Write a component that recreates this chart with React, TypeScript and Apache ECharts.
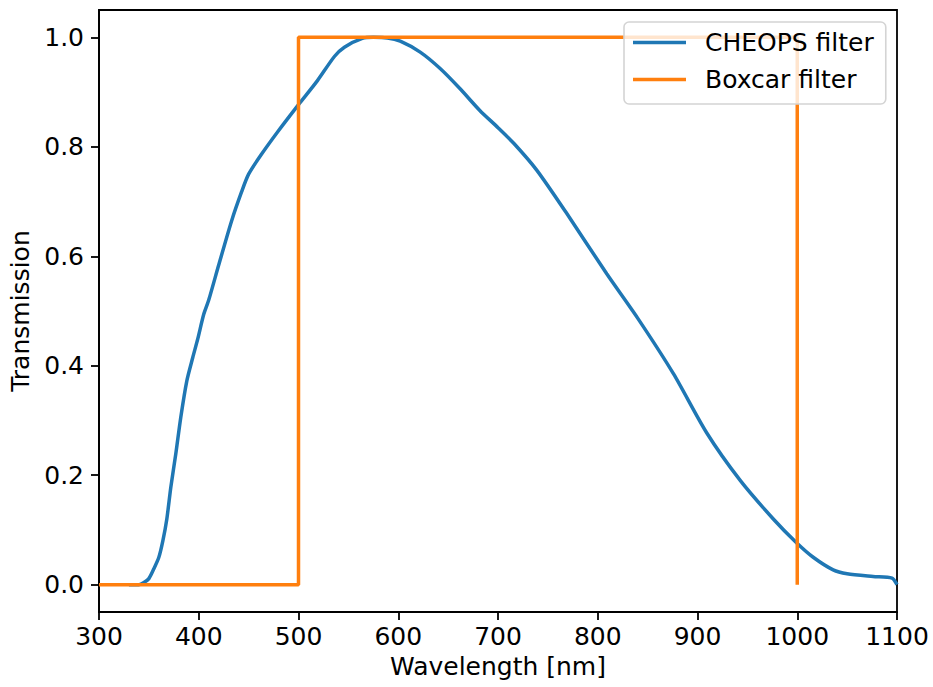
import React, { useEffect, useRef } from "react";
import * as echarts from "echarts";

// CHEOPS passband transmission, [wavelength nm, transmission]
const cheopsWavelength = [
  330, 340, 345, 350, 355, 360, 364, 368, 372, 377, 382, 388, 394, 399, 405, 410,
  420, 433, 443, 450, 462, 479, 500, 519, 536, 546, 564, 575, 589, 602, 622, 642,
  662, 682, 700, 716, 739, 769, 809, 840, 876, 909, 943, 976, 999, 1016, 1036,
  1050, 1076, 1095, 1100,
];
const cheopsTransmission = [
  0, 0, 0.004, 0.011, 0.029, 0.05, 0.08, 0.12, 0.178, 0.239, 0.306, 0.372, 0.415,
  0.449, 0.494, 0.52, 0.584, 0.665, 0.718, 0.75, 0.784, 0.827, 0.877, 0.921, 0.965,
  0.982, 0.998, 1.0, 0.999, 0.993, 0.973, 0.943, 0.906, 0.866, 0.835, 0.806, 0.757,
  0.678, 0.568, 0.487, 0.385, 0.278, 0.19, 0.12, 0.077, 0.05, 0.027, 0.02, 0.015,
  0.012, 0,
];

// Idealised boxcar filter between 500 and 1000 nm
const boxcarWavelength = [300, 500, 500, 1000, 1000];
const boxcarTransmission = [0, 0, 1, 1, 0];

const yTicks = [0, 0.2, 0.4, 0.6, 0.8, 1.0];

const FONT = "DejaVu Sans";
const FS = 25;

export default function App() {
  const ref = useRef<HTMLDivElement>(null);

  useEffect(() => {
    if (!ref.current) return;
    const chart = echarts.init(ref.current, null, { renderer: "svg" });

    const cheops = cheopsWavelength.map((w, i) => [w, cheopsTransmission[i]]);
    const boxcar = boxcarWavelength.map((w, i) => [w, boxcarTransmission[i]]);

    chart.setOption({
      animation: false,
      backgroundColor: "#ffffff",
      textStyle: { fontFamily: FONT, color: "#000" },
      grid: {
        left: 98,
        right: 36,
        top: 10,
        bottom: 75,
        show: true,
        borderColor: "#000",
        borderWidth: 1.8,
        backgroundColor: "transparent",
      },
      legend: {
        orient: "vertical",
        left: 624,
        top: 22,
        padding: [6, 12, 10, 9],
        itemGap: 8,
        itemWidth: 53,
        itemHeight: 3.5,
        icon: "rect",
        backgroundColor: "rgba(255,255,255,0.8)",
        borderColor: "#d4d4d4",
        borderWidth: 1.6,
        borderRadius: 5,
        textStyle: {
          fontFamily: FONT,
          fontSize: FS,
          color: "#000",
          lineHeight: 29,
          padding: [0, 0, 0, 14],
        },
        data: ["CHEOPS filter", "Boxcar filter"],
      },
      xAxis: {
        type: "value",
        min: 300,
        max: 1100,
        interval: 100,
        name: "Wavelength [nm]",
        nameLocation: "middle",
        nameGap: 39,
        nameTextStyle: { fontFamily: FONT, fontSize: FS, color: "#000", verticalAlign: "top" },
        axisLine: { show: true, onZero: false, lineStyle: { color: "#000", width: 1.8 } },
        axisTick: { show: true, inside: false, length: 8, lineStyle: { color: "#000", width: 1.8 } },
        axisLabel: {
          fontFamily: FONT,
          fontSize: FS,
          color: "#000",
          margin: 12,
          formatter: (v: number) => String(v),
        },
        splitLine: { show: false },
      },
      yAxis: {
        type: "value",
        min: -0.05,
        max: 1.05,
        name: "Transmission",
        nameLocation: "middle",
        nameGap: 66,
        nameRotate: 90,
        nameTextStyle: { fontFamily: FONT, fontSize: FS, color: "#000" },
        axisLine: { show: true, onZero: false, lineStyle: { color: "#000", width: 1.8 } },
        axisTick: {
          show: true,
          inside: false,
          length: 8,
          customValues: yTicks,
          lineStyle: { color: "#000", width: 1.8 },
        },
        axisLabel: {
          fontFamily: FONT,
          fontSize: FS,
          color: "#000",
          margin: 15,
          customValues: yTicks,
          formatter: (v: number) => v.toFixed(1),
        },
        splitLine: { show: false },
      },
      series: [
        {
          name: "CHEOPS filter",
          type: "line",
          data: cheops,
          showSymbol: false,
          symbol: "none",
          smooth: 0.25,
          lineStyle: { color: "#1f77b4", width: 3.5 },
          itemStyle: { color: "#1f77b4" },
          z: 2,
        },
        {
          name: "Boxcar filter",
          type: "line",
          data: boxcar,
          showSymbol: false,
          symbol: "none",
          lineStyle: { color: "#ff7f0e", width: 3.5 },
          itemStyle: { color: "#ff7f0e" },
          z: 3,
        },
      ],
    });

    return () => chart.dispose();
  }, []);

  return (
    <div
      ref={ref}
      style={{ position: "fixed", left: 0, top: 0, width: 933, height: 687, background: "#fff" }}
    />
  );
}
